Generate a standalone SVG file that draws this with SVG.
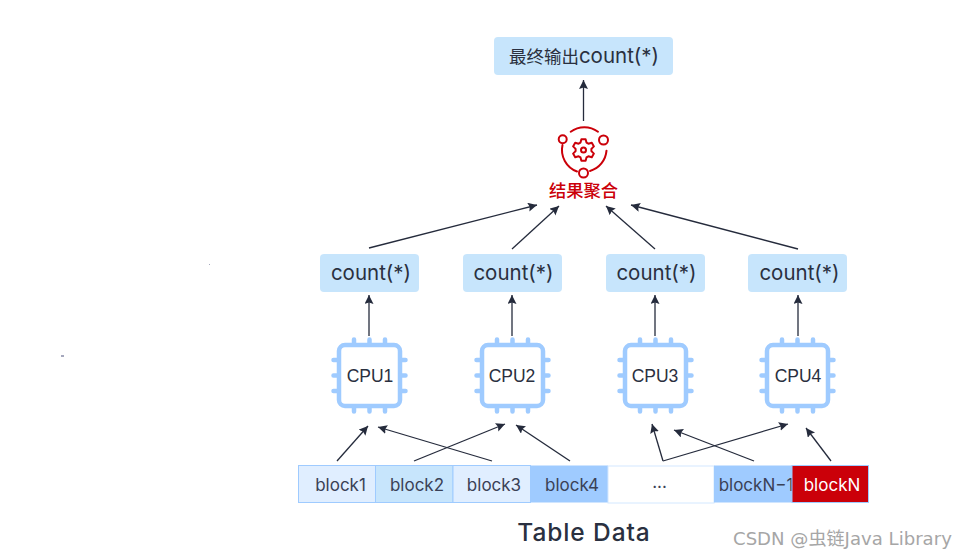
<svg xmlns="http://www.w3.org/2000/svg" width="966" height="559" viewBox="0 0 966 559">
<defs>
<marker id="ah" markerUnits="userSpaceOnUse" markerWidth="10" markerHeight="10" refX="9" refY="4.5" orient="auto"><path d="M0 0L9 4.5L0 9L1.5 4.5Z" fill="#252b3c"/></marker>
<g id="chip"><rect x="-30.5" y="-30.5" width="61" height="61" rx="6" fill="#fff" stroke="#9fcbff" stroke-width="4.5"/>
<path d="M-15.500-36V-31M0-36V-31M15.500-36V-31M-15.500 31V36M0 31V36M15.500 31V36M-36-15.500H-31M-36 0H-31M-36 15.500H-31M31-15.500H36M31 0H36M31 15.500H36" stroke="#9fcbff" stroke-width="4.500" stroke-linecap="round" fill="none"/></g>
</defs>
<style>
text{font-family:"Liberation Sans","Noto Sans CJK SC",sans-serif;fill:#2a3040;text-anchor:middle}
.box{fill:#c7e5fc}
.lbl{font-family:Inter,"Noto Sans CJK SC",sans-serif;font-size:20.500px}
.bk{font-family:Inter,"Noto Sans CJK SC",sans-serif;font-size:17px;fill:#3a4156}
.cpu{font-size:17.500px}
.c{fill:none;stroke:#252b3c;stroke-width:1.300;marker-end:url(#ah)}
.red{fill:none;stroke:#cb0009;stroke-width:2;stroke-linejoin:round;stroke-linecap:round}
</style>
<rect width="966" height="559" fill="#fff"/>
<g id="connectors">
<path class="c" d="M583.500 121V80"/>
<path class="c" d="M369 248L537 205"/>
<path class="c" d="M512 249L559 206"/>
<path class="c" d="M655 249L606 206"/>
<path class="c" d="M798 249L631 205"/>
<path class="c" d="M369 336V295"/>
<path class="c" d="M512 336V295"/>
<path class="c" d="M655 336V295"/>
<path class="c" d="M798 336V295"/>
<path class="c" d="M337 461L368 426"/>
<path class="c" d="M492 461L378 427"/>
<path class="c" d="M414 461L505 424"/>
<path class="c" d="M570 461L516 425"/>
<path class="c" d="M663 461L652 424"/>
<path class="c" d="M754 461L674 430"/>
<path class="c" d="M663 461L788 424"/>
<path class="c" d="M831 461L806 428"/>
</g>
<g id="final"><rect class="box" x="494" y="37" width="179" height="38" rx="4"/><text class="lbl" x="584" y="62.500"><tspan style="font-size:17.500px">最终输出</tspan>count(*)</text></g>
<g id="merge">
<path class="red" d="M570.700 131.700A23 23 0 0 1 598 131.700M606.500 150.700A23 23 0 0 1 590 171M577 171.500A23 23 0 0 1 562.500 145"/>
<circle class="red" cx="562.700" cy="139.300" r="4"/><circle class="red" cx="603.500" cy="140" r="4.500"/><circle class="red" cx="583.500" cy="173" r="4.500"/>
<polygon class="red" transform="translate(583.500 150)" points="-3,-7.400 -2.100,-10.800 2.100,-10.800 3,-7.400 4.900,-6.300 8.300,-7.200 10.400,-3.600 7.900,-1.100 7.900,1.100 10.400,3.600 8.300,7.200 4.900,6.300 3,7.400 2.100,10.800 -2.100,10.800 -3,7.400 -4.900,6.300 -8.300,7.200 -10.400,3.600 -7.900,1.100 -7.900,-1.100 -10.400,-3.600 -8.300,-7.200 -4.900,-6.300"/>
<circle class="red" cx="583.500" cy="150" r="2.500"/>
<text x="583.500" y="196.500" font-size="17.300" font-weight="500" style="fill:#cb0009;font-family:'Noto Sans CJK SC',sans-serif">结果聚合</text>
</g>
<g id="count1"><rect class="box" x="320" y="254" width="99" height="38" rx="4"/><text class="lbl" x="371" y="280">count(*)</text></g>
<g id="count2"><rect class="box" x="463" y="254" width="99" height="38" rx="4"/><text class="lbl" x="513.500" y="280">count(*)</text></g>
<g id="count3"><rect class="box" x="606" y="254" width="99" height="38" rx="4"/><text class="lbl" x="656.500" y="280">count(*)</text></g>
<g id="count4"><rect class="box" x="748" y="254" width="99" height="38" rx="4"/><text class="lbl" x="799.500" y="280">count(*)</text></g>
<g id="cpu1"><use href="#chip" x="369.500" y="375.500"/><text class="cpu" x="370" y="381.500">CPU1</text></g>
<g id="cpu2"><use href="#chip" x="512.500" y="375.500"/><text class="cpu" x="512" y="381.500">CPU2</text></g>
<g id="cpu3"><use href="#chip" x="655.500" y="375.500"/><text class="cpu" x="655" y="381.500">CPU3</text></g>
<g id="cpu4"><use href="#chip" x="797.500" y="375.500"/><text class="cpu" x="798" y="381.500">CPU4</text></g>
<g id="blocks">
<rect x="298.500" y="465.500" width="77" height="37" fill="#e0eeff" stroke="#9fcbff"/>
<rect x="375.500" y="465.500" width="77.500" height="37" fill="#c7e5fc" stroke="#9fcbff"/>
<rect x="453" y="465.500" width="77.500" height="37" fill="#e0eeff" stroke="#9fcbff"/>
<rect x="530.500" y="465.500" width="77.500" height="37" fill="#9fcbff"/>
<rect x="608" y="466" width="106" height="37" fill="#fff" stroke="#d3e8ff"/>
<rect x="714" y="465.500" width="78" height="37" fill="#9fcbff"/>
<text class="bk" x="340.500" y="490.500">block1</text>
<text class="bk" x="417" y="490.500">block2</text>
<text class="bk" x="494" y="490.500">block3</text>
<text class="bk" x="572" y="490.500">block4</text>
<text class="bk" x="659.500" y="488">...</text>
<text class="bk" x="756" y="490.500">blockN−1</text>
<rect x="792" y="465.500" width="76.500" height="37" fill="#cb0009" stroke="#9fcbff"/>
<text class="bk" x="832" y="490.500" style="fill:#fff">blockN</text>
</g>
<text x="584" y="541" font-size="24.500" font-weight="500" letter-spacing="0.900" style="font-family:Inter,sans-serif">Table Data</text>
<text x="733" y="545" font-size="18.100" style="text-anchor:start;fill:#a6a6a6;font-family:'DejaVu Sans','Noto Sans CJK SC',sans-serif">CSDN @虫链Java Library</text>
<rect x="209" y="264" width="1" height="1" fill="#a5a8bd"/>
<rect x="61" y="355" width="3" height="2" fill="#a5a8bd"/>
</svg>
